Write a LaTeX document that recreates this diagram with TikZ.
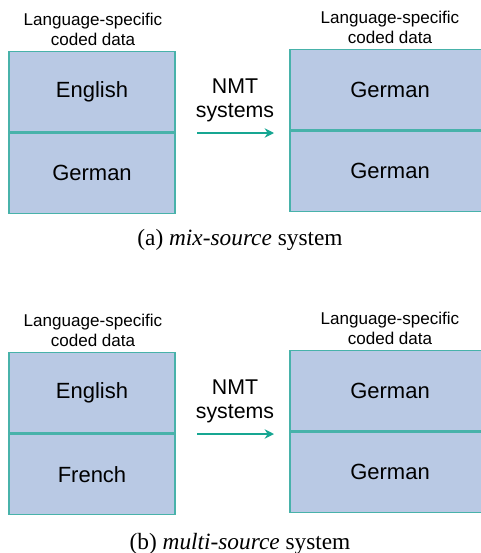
\documentclass[tikz,border=0pt]{standalone}
\usepackage{fontspec}
\setmainfont{Liberation Serif}
\newfontfamily\arialfont{Liberation Sans}
\usetikzlibrary{positioning,arrows.meta}

\definecolor{cellfill}{RGB}{185,201,228}
\definecolor{celledge}{RGB}{72,178,170}
\definecolor{arrowteal}{RGB}{22,166,146}

\begin{document}
\begin{tikzpicture}[
      x=0.75pt, y=-0.75pt,
      cell/.style = {rectangle, draw=celledge, fill=cellfill, line width=0.9pt,
                     minimum height=60.5pt, inner sep=0pt,
                     font=\arialfont\fontsize{16.5}{18}\selectfont},
      srccell/.style = {cell, minimum width=124.5pt},
      tgtcell/.style = {cell, minimum width=150pt},
      hdr/.style = {align=center, inner sep=0pt,
                    font=\arialfont\fontsize{12.8}{15}\selectfont},
      nmt/.style = {align=center, inner sep=0pt,
                    font=\arialfont\fontsize{16}{18}\selectfont},
      caption/.style = {inner sep=0pt, font=\fontsize{17.5}{20}\selectfont},
      arrow/.style = {-{Stealth[length=7pt,width=7pt]}, draw=arrowteal, line width=1.6pt}
    ]
    \useasboundingbox (0,0) rectangle (481,553);

    % (a) mix-source
    \node[srccell] (srcAtop) at (92,91.5) {English};
    \node[srccell, below=0pt of srcAtop] (srcAbot) {German};
    \node[tgtcell] (tgtAtop) at (390,89.5) {German};
    \node[tgtcell, below=0pt of tgtAtop] (tgtAbot) {German};
    \node[hdr] (hdrAsrc) at (93,29) {Language-specific\\coded data};
    \node[hdr] (hdrAtgt) at (390,27) {Language-specific\\coded data};
    \coordinate (arrAfrom) at (197,133);
    \coordinate (arrAto) at (274,133);
    \node[nmt] (nmtA) at (235,100) {NMT\\systems};
    \draw[arrow] (arrAfrom) -- (arrAto);
    \node[caption] (capA) at (240,240) {(a) \textit{mix-source} system};

    % (b) multi-source
    \node[srccell] (srcBtop) at (92,392.5) {English};
    \node[srccell, below=0pt of srcBtop] (srcBbot) {French};
    \node[tgtcell] (tgtBtop) at (390,390.5) {German};
    \node[tgtcell, below=0pt of tgtBtop] (tgtBbot) {German};
    \node[hdr] (hdrBsrc) at (93,330) {Language-specific\\coded data};
    \node[hdr] (hdrBtgt) at (390,328) {Language-specific\\coded data};
    \coordinate (arrBfrom) at (197,434);
    \coordinate (arrBto) at (274,434);
    \node[nmt] (nmtB) at (235,401) {NMT\\systems};
    \draw[arrow] (arrBfrom) -- (arrBto);
    \node[caption] (capB) at (240,544) {(b) \textit{multi-source} system};
  \end{tikzpicture}
\end{document}
